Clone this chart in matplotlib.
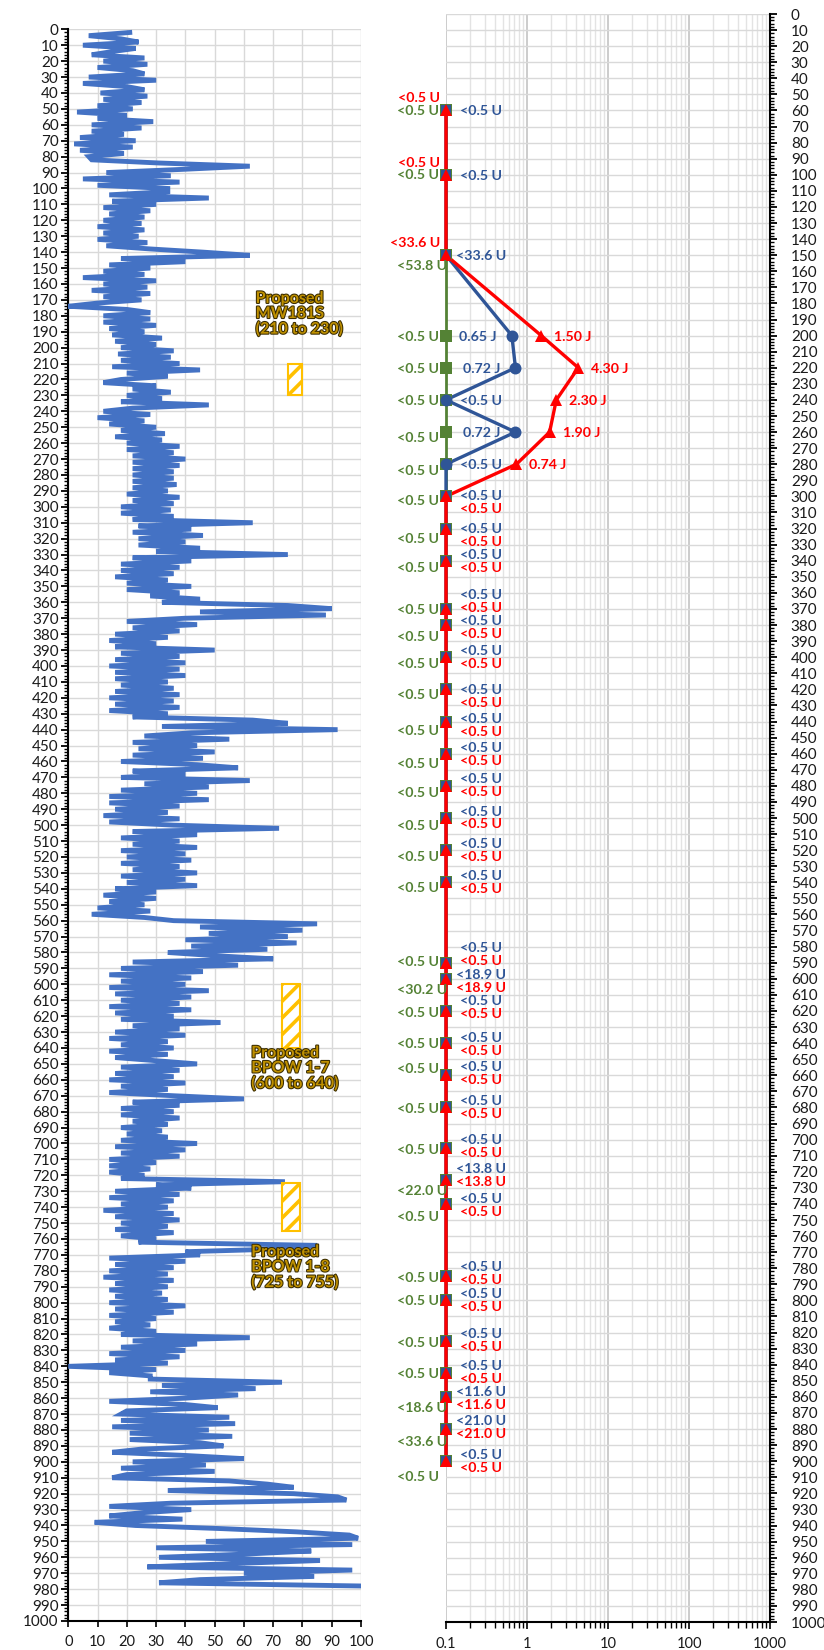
import matplotlib
matplotlib.use('Agg')
import matplotlib.pyplot as plt
import numpy as np
from matplotlib.patches import Rectangle
from matplotlib.ticker import MultipleLocator, FixedLocator, NullFormatter
import matplotlib.patheffects as pe

plt.rcParams['font.family'] = ['Lato', 'DejaVu Sans']
plt.rcParams['hatch.linewidth'] = 2.6

# ---------------- left panel: gamma log (value every 2 ft, depth 2..978) -------------
gamma_depth = np.arange(2, 979, 2)
gamma = [
    21, 7, 18, 24, 5, 23, 15, 8, 26, 12,
    27, 10, 22, 26, 7, 30, 5, 20, 26, 11,
    27, 12, 25, 10, 22, 3, 20, 10, 29, 8,
    25, 8, 19, 4, 23, 2, 22, 4, 19, 7,
    8, 31, 62, 39, 13, 35, 5, 38, 10, 34,
    34, 14, 48, 15, 30, 12, 28, 14, 26, 12,
    25, 10, 26, 12, 24, 10, 27, 13, 28, 46,
    62, 18, 40, 14, 28, 12, 26, 5, 30, 12,
    27, 8, 28, 12, 25, 10, 0, 20, 28, 12,
    28, 12, 30, 14, 26, 15, 32, 16, 30, 18,
    36, 17, 35, 18, 38, 15, 45, 20, 34, 18,
    12, 30, 22, 35, 20, 32, 18, 48, 22, 12,
    28, 10, 26, 14, 30, 18, 33, 16, 32, 20,
    38, 20, 36, 22, 40, 22, 38, 22, 36, 22,
    36, 22, 37, 22, 34, 20, 38, 22, 36, 18,
    35, 18, 36, 22, 63, 24, 42, 22, 46, 24,
    40, 24, 45, 30, 75, 22, 42, 18, 38, 18,
    36, 16, 34, 20, 42, 20, 38, 28, 45, 32,
    75, 90, 45, 88, 40, 20, 44, 22, 38, 16,
    34, 14, 30, 16, 50, 18, 38, 16, 40, 14,
    38, 16, 40, 16, 34, 18, 36, 16, 38, 14,
    36, 16, 38, 14, 34, 22, 63, 75, 32, 92,
    42, 26, 55, 22, 44, 24, 50, 22, 46, 18,
    44, 58, 22, 40, 18, 62, 26, 48, 18, 44,
    14, 48, 14, 38, 16, 34, 12, 38, 14, 36,
    72, 22, 44, 18, 38, 22, 44, 18, 40, 20,
    42, 18, 38, 22, 44, 18, 40, 20, 44, 16,
    30, 12, 30, 14, 26, 10, 28, 8, 26, 36,
    85, 45, 80, 48, 75, 40, 78, 42, 68, 34,
    50, 70, 22, 58, 18, 46, 14, 42, 18, 40,
    14, 48, 16, 42, 18, 38, 14, 42, 16, 36,
    18, 52, 22, 38, 16, 40, 14, 34, 18, 36,
    14, 34, 16, 30, 44, 18, 38, 16, 36, 14,
    40, 18, 34, 14, 36, 60, 22, 38, 18, 36,
    18, 38, 22, 34, 18, 32, 20, 34, 18, 44,
    16, 40, 18, 38, 14, 30, 14, 28, 14, 26,
    18, 74, 30, 42, 16, 38, 14, 36, 18, 34,
    12, 36, 16, 38, 18, 34, 16, 36, 18, 30,
    24, 85, 78, 40, 45, 14, 40, 16, 36, 14,
    34, 12, 36, 16, 34, 14, 32, 16, 34, 14,
    40, 16, 36, 14, 30, 16, 28, 14, 30, 18,
    62, 22, 44, 18, 40, 14, 38, 16, 34, 0,
    30, 14, 28, 28, 73, 32, 64, 28, 58, 40,
    14, 40, 51, 20, 18, 55, 18, 57, 15, 48,
    21, 56, 21, 45, 53, 25, 15, 40, 60, 22,
    47, 18, 50, 20, 15, 55, 68, 77, 34, 77,
    92, 95, 35, 14, 42, 25, 14, 39, 9, 23,
    53, 78, 96, 99, 47, 97, 30, 83, 60, 31,
    86, 55, 27, 97, 60, 84, 45, 31, 100,
]

# proposed intervals (x range, top depth, bottom depth, label)
prop_x0 = [75, 73, 73]
prop_x1 = [80, 79, 79]
prop_top = [210, 600, 725]
prop_bot = [230, 640, 755]
prop_text = ["Proposed\nMW181S\n(210 to 230)",
             "Proposed\nBPOW 1-7\n(600 to 640)",
             "Proposed\nBPOW 1-8\n(725 to 755)"]
prop_text_x = [64, 62.5, 62.5]
prop_text_y = [165, 639, 764]

# ---------------- right panel: sample results --------------------------------------
depths = [60, 100, 150, 200, 220, 240, 260, 280, 300, 320, 340, 370, 380, 400,
          420, 440, 460, 480, 500, 520, 540, 590, 600, 620, 640, 660, 680, 705,
          725, 740, 785, 800, 825, 845, 860, 880, 900]
green_vals = [0.1, 0.1, 0.1, 0.1, 0.1, 0.1, 0.1, 0.1, 0.1, 0.1, 0.1, 0.1, 0.1,
              0.1, 0.1, 0.1, 0.1, 0.1, 0.1, 0.1, 0.1, 0.1, 0.1, 0.1, 0.1, 0.1,
              0.1, 0.1, 0.1, 0.1, 0.1, 0.1, 0.1, 0.1, 0.1, 0.1, 0.1]
blue_vals = [0.1, 0.1, 0.1, 0.65, 0.72, 0.1, 0.72, 0.1, 0.1, 0.1, 0.1, 0.1, 0.1,
             0.1, 0.1, 0.1, 0.1, 0.1, 0.1, 0.1, 0.1, 0.1, 0.1, 0.1, 0.1, 0.1,
             0.1, 0.1, 0.1, 0.1, 0.1, 0.1, 0.1, 0.1, 0.1, 0.1, 0.1]
red_vals = [0.1, 0.1, 0.1, 1.50, 4.30, 2.30, 1.90, 0.74, 0.1, 0.1, 0.1, 0.1, 0.1,
            0.1, 0.1, 0.1, 0.1, 0.1, 0.1, 0.1, 0.1, 0.1, 0.1, 0.1, 0.1, 0.1,
            0.1, 0.1, 0.1, 0.1, 0.1, 0.1, 0.1, 0.1, 0.1, 0.1, 0.1]
green_labels = ['<0.5 U', '<0.5 U', '<53.8 U', '<0.5 U', '<0.5 U', '<0.5 U', '<0.5 U',
                '<0.5 U', '<0.5 U', '<0.5 U', '<0.5 U', '<0.5 U', '<0.5 U', '<0.5 U',
                '<0.5 U', '<0.5 U', '<0.5 U', '<0.5 U', '<0.5 U', '<0.5 U', '<0.5 U',
                '<0.5 U', '<30.2 U', '<0.5 U', '<0.5 U', '<0.5 U', '<0.5 U', '<0.5 U',
                '<22.0 U', '<0.5 U', '<0.5 U', '<0.5 U', '<0.5 U', '<0.5 U', '<18.6 U',
                '<33.6 U', '<0.5 U']
blue_labels = ['<0.5 U', '<0.5 U', '<33.6 U', '0.65 J', '0.72 J', '<0.5 U', '0.72 J',
               '<0.5 U', '<0.5 U', '<0.5 U', '<0.5 U', '<0.5 U', '<0.5 U', '<0.5 U',
               '<0.5 U', '<0.5 U', '<0.5 U', '<0.5 U', '<0.5 U', '<0.5 U', '<0.5 U',
               '<0.5 U', '<18.9 U', '<0.5 U', '<0.5 U', '<0.5 U', '<0.5 U', '<0.5 U',
               '<13.8 U', '<0.5 U', '<0.5 U', '<0.5 U', '<0.5 U', '<0.5 U', '<11.6 U',
               '<21.0 U', '<0.5 U']
red_labels = ['<0.5 U', '<0.5 U', '<33.6 U', '1.50 J', '4.30 J', '2.30 J', '1.90 J',
              '0.74 J', '<0.5 U', '<0.5 U', '<0.5 U', '<0.5 U', '<0.5 U', '<0.5 U',
              '<0.5 U', '<0.5 U', '<0.5 U', '<0.5 U', '<0.5 U', '<0.5 U', '<0.5 U',
              '<0.5 U', '<18.9 U', '<0.5 U', '<0.5 U', '<0.5 U', '<0.5 U', '<0.5 U',
              '<13.8 U', '<0.5 U', '<0.5 U', '<0.5 U', '<0.5 U', '<0.5 U', '<11.6 U',
              '<21.0 U', '<0.5 U']

# label placement (pixels, downward positive)
green_dy = [1, 0, 11, 1, 1, 1, 6, 7, 5, 10, 7, 1, 12, 7, 6, 9, 10, 7, 8, 7, 6, -1, 11,
            2, 1, -6, 2, 2, 11, 13, 2, 1, 2, 1, 11, 13, 16]
pair_dy = [0, 0, 0, 0, 0, 0, 0, 0, 6.5, 7, 1, -7, 2, 0.5, 7, 3.5, 0.5, 0, 0, 0, 0,
           -8.5, 2.3, -3, 1, -2, 0, -1.5, -4, 2, -2.5, 0, 0, -0.5, 2, -2, 0]

C_GAMMA = '#4472C4'
C_GREEN = '#548235'
C_BLUE = '#2F5597'
C_RED = '#FF0000'
C_GOLD = '#FFC000'
C_TXT = '#1a1a1a'

W, H = 824, 1650
fig = plt.figure(figsize=(W / 100, H / 100), dpi=100)

# ---------------------------------------------------------------- left axes
axL = fig.add_axes([68.3 / W, 1 - 1621 / H, (361 - 68.3) / W, (1621 - 29.3) / H])
axL.plot(gamma, gamma_depth, color=C_GAMMA, lw=3.5, solid_joinstyle='miter', zorder=3)
axL.set_xlim(0, 100)
axL.set_ylim(1000, 0)
axL.xaxis.set_major_locator(MultipleLocator(10))
axL.yaxis.set_major_locator(MultipleLocator(10))
axL.yaxis.set_minor_locator(MultipleLocator(2))
axL.grid(True, which='major', color='#d9d9d9', lw=1, zorder=0)
axL.set_axisbelow(True)
for s in ['top', 'right']:
    axL.spines[s].set_visible(False)
for s in ['left', 'bottom']:
    axL.spines[s].set_color('black')
    axL.spines[s].set_linewidth(1.5)
axL.tick_params(axis='y', which='major', length=5, width=1.3, direction='out',
                labelsize=11, pad=2, colors='black', labelcolor=C_TXT)
axL.tick_params(axis='y', which='minor', length=3, width=1, direction='out')
axL.tick_params(axis='x', which='major', length=4, width=1.2, direction='out',
                labelsize=10.5, pad=6, labelcolor=C_TXT)

for x0, x1, t, b in zip(prop_x0, prop_x1, prop_top, prop_bot):
    axL.add_patch(Rectangle((x0, t), x1 - x0, b - t, facecolor='white',
                            edgecolor=C_GOLD, hatch='//', lw=1.5, zorder=4))
for tx, ty, txt in zip(prop_text_x, prop_text_y, prop_text):
    axL.text(tx, ty, txt, ha='left', va='top', fontsize=11.5, fontweight='bold',
             color='#BF9000', linespacing=1.1, zorder=5,
             path_effects=[pe.withStroke(linewidth=1.5, foreground='#3a2c00')])

# ---------------------------------------------------------------- right axes
axR = fig.add_axes([446 / W, 1 - 1622 / H, 324 / W, (1622 - 14) / H])
axR.set_xscale('log')
axR.set_xlim(0.1, 1000)
axR.set_ylim(1000, 0)
axR.yaxis.tick_right()
axR.yaxis.set_label_position('right')
axR.yaxis.set_major_locator(MultipleLocator(10))
axR.yaxis.set_minor_locator(MultipleLocator(2))
axR.set_xticks([0.1, 1, 10, 100, 1000])
axR.set_xticklabels(['0.1', '1', '10', '100', '1000'])
axR.xaxis.set_minor_locator(FixedLocator(
    [m * 10.0 ** e for e in range(-1, 3) for m in range(2, 10)]))
axR.xaxis.set_minor_formatter(NullFormatter())
axR.grid(True, axis='y', which='major', color='#d9d9d9', lw=1)
axR.grid(True, axis='x', which='major', color='#bfbfbf', lw=1.1)
axR.grid(True, axis='x', which='minor', color='#e3e3e3', lw=1)
axR.set_axisbelow(True)
for s in ['top', 'left']:
    axR.spines[s].set_visible(False)
for s in ['right', 'bottom']:
    axR.spines[s].set_color('black')
    axR.spines[s].set_linewidth(1.5)
axR.tick_params(axis='y', which='major', length=5, width=1.3, direction='out',
                labelsize=11, pad=10, labelcolor=C_TXT)
axR.tick_params(axis='y', which='minor', length=3, width=1, direction='out')
axR.tick_params(axis='x', which='major', length=5, width=1.2, direction='out',
                labelsize=10.5, pad=6, labelcolor=C_TXT)
axR.tick_params(axis='x', which='minor', length=4, width=1, direction='out')

# lines
axR.plot(green_vals, depths, color=C_GREEN, lw=2, zorder=3, clip_on=False)
axR.plot(blue_vals, depths, color=C_BLUE, lw=2.4, zorder=4, clip_on=False)
axR.plot(red_vals, depths, color=C_RED, lw=2.4, zorder=5, clip_on=False)
# markers
axR.plot(green_vals, depths, ls='none', marker='s', ms=8.8, mfc=C_GREEN, mec=C_GREEN,
         mew=0, zorder=6, clip_on=False)
circ = [i for i in range(len(depths)) if 200 <= depths[i] <= 280]
sq = [i for i in range(len(depths)) if i not in circ]
axR.plot([blue_vals[i] for i in sq], [depths[i] for i in sq], ls='none', marker='s',
         ms=7.8, mfc=C_BLUE, mec=C_BLUE, mew=0, zorder=7, clip_on=False)
axR.plot([blue_vals[i] for i in circ], [depths[i] for i in circ], ls='none', marker='o',
         ms=8.6, mfc=C_BLUE, mec=C_BLUE, mew=0, zorder=7, clip_on=False)
axR.plot(red_vals, depths, ls='none', marker='^', ms=8.4, mfc=C_RED, mec=C_RED,
         mew=0, zorder=8, clip_on=False)

lab_kw = dict(textcoords='offset pixels', fontsize=10.2, fontweight='bold',
              va='center', annotation_clip=False, zorder=9)
for i, d in enumerate(depths):
    # green labels (left of marker)
    axR.annotate(green_labels[i], (green_vals[i], d), xytext=(-49, -green_dy[i]),
                 ha='left', color=C_GREEN, **lab_kw)
    # blue labels
    if blue_vals[i] > 0.1:
        axR.annotate(blue_labels[i], (blue_vals[i], d), xytext=(-15, -1),
                     ha='right', color=C_BLUE, **lab_kw)
    elif i < 8:
        axR.annotate(blue_labels[i], (blue_vals[i], d), xytext=(35, -1),
                     ha='center', color=C_BLUE, **lab_kw)
    else:
        axR.annotate(blue_labels[i], (blue_vals[i], d), xytext=(35, -(pair_dy[i] - 6.5)),
                     ha='center', color=C_BLUE, **lab_kw)
    # red labels
    if red_vals[i] > 0.1:
        axR.annotate(red_labels[i], (red_vals[i], d), xytext=(13, -1),
                     ha='left', color=C_RED, **lab_kw)
    elif i < 3:
        axR.annotate(red_labels[i], (red_vals[i], d), xytext=(-6, 12),
                     ha='right', color=C_RED, **lab_kw)
    else:
        axR.annotate(red_labels[i], (red_vals[i], d), xytext=(35, -(pair_dy[i] + 6.5)),
                     ha='center', color=C_RED, **lab_kw)

fig.savefig('out.png', dpi=100)
